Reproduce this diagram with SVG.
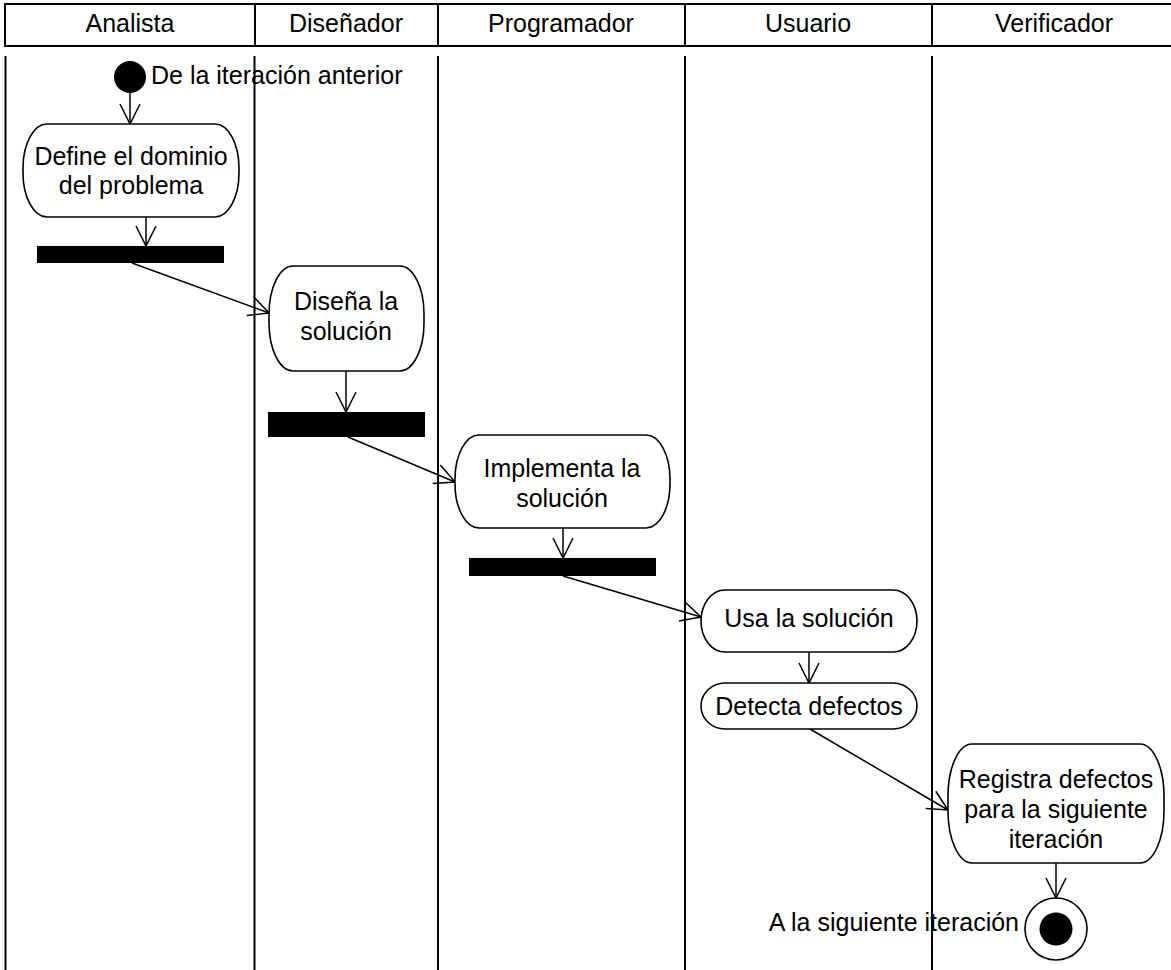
<svg xmlns="http://www.w3.org/2000/svg" width="1171" height="970" viewBox="0 0 1171 970">
  <style>
    text { font-family: "Liberation Sans", Arial, sans-serif; font-size: 25px; fill: #000; }
    .c { text-anchor: middle; }
    .lane { stroke: #000; stroke-width: 2; fill: none; }
    .act { fill: #fff; stroke: #000; stroke-width: 1.6; }
    .bar { fill: #000; }
    .flow { stroke: #000; stroke-width: 1.5; fill: none; marker-end: url(#open); }
  </style>
  <defs>
    <marker id="open" markerUnits="userSpaceOnUse" markerWidth="22" markerHeight="22" viewBox="0 0 22 22" refX="20" refY="11" orient="auto" overflow="visible">
      <path d="M0,1 L20,11 L0,21" fill="none" stroke="#000" stroke-width="1.5"/>
    </marker>
  </defs>
  <rect width="1171" height="970" fill="#fff"/>

  <!-- swimlane header -->
  <g id="header">
    <rect x="5" y="4" width="1170" height="42" class="lane"/>
    <line x1="255" y1="4" x2="255" y2="46" class="lane"/>
    <line x1="438" y1="4" x2="438" y2="46" class="lane"/>
    <line x1="685" y1="4" x2="685" y2="46" class="lane"/>
    <line x1="932" y1="4" x2="932" y2="46" class="lane"/>
    <text x="130" y="32" class="c">Analista</text>
    <text x="346" y="32" class="c">Diseñador</text>
    <text x="561" y="32" class="c">Programador</text>
    <text x="808" y="32" class="c">Usuario</text>
    <text x="1054" y="32" class="c">Verificador</text>
  </g>

  <!-- swimlane separators -->
  <g id="lanes">
    <line x1="5.5" y1="56" x2="5.5" y2="970" class="lane"/>
    <line x1="254.5" y1="56" x2="254.5" y2="970" class="lane"/>
    <line x1="438" y1="56" x2="438" y2="970" class="lane"/>
    <line x1="685" y1="56" x2="685" y2="970" class="lane"/>
    <line x1="932" y1="56" x2="932" y2="970" class="lane"/>
  </g>

  <!-- control flows -->
  <g id="connectors">
    <line x1="130" y1="93" x2="130" y2="124" class="flow"/>
    <line x1="146" y1="217" x2="146" y2="246" class="flow"/>
    <line x1="132" y1="263" x2="269" y2="313" class="flow"/>
    <line x1="346" y1="371" x2="346" y2="412" class="flow"/>
    <line x1="348" y1="437" x2="455" y2="482" class="flow"/>
    <line x1="563" y1="528" x2="563" y2="558" class="flow"/>
    <line x1="563" y1="576" x2="701" y2="617" class="flow"/>
    <line x1="809" y1="652" x2="809" y2="683" class="flow"/>
    <line x1="810" y1="729" x2="948" y2="810" class="flow"/>
    <line x1="1056" y1="863" x2="1056" y2="898" class="flow"/>
  </g>

  <g id="inicio">
    <circle cx="130" cy="77" r="16" fill="#000"/>
    <text x="151" y="84">De la iteración anterior</text>
  </g>

  <g id="define-dominio">
    <rect x="23" y="124" width="216" height="93" rx="24" ry="44" class="act"/>
    <text x="131" y="165" class="c">Define el dominio</text>
    <text x="131" y="194" class="c">del problema</text>
  </g>

  <g id="fork-analista">
    <rect x="37" y="246" width="187" height="17" class="bar"/>
  </g>

  <g id="disena-solucion">
    <rect x="269" y="266" width="155" height="105" rx="24" ry="48" class="act"/>
    <text x="346" y="310" class="c">Diseña la</text>
    <text x="346" y="340" class="c">solución</text>
  </g>

  <g id="fork-disenador">
    <rect x="268" y="412" width="157" height="25" class="bar"/>
  </g>

  <g id="implementa-solucion">
    <rect x="455" y="435" width="215" height="93" rx="24" ry="44" class="act"/>
    <text x="562" y="477" class="c">Implementa la</text>
    <text x="562" y="507" class="c">solución</text>
  </g>

  <g id="fork-programador">
    <rect x="469" y="558" width="187" height="18" class="bar"/>
  </g>

  <g id="usa-solucion">
    <rect x="701" y="590" width="216" height="62" rx="24" ry="31" class="act"/>
    <text x="809" y="627" class="c">Usa la solución</text>
  </g>

  <g id="detecta-defectos">
    <rect x="701" y="683" width="216" height="46" rx="24" ry="23" class="act"/>
    <text x="809" y="715" class="c">Detecta defectos</text>
  </g>

  <g id="registra-defectos">
    <rect x="948" y="744" width="216" height="119" rx="24" ry="52" class="act"/>
    <text x="1056" y="788" class="c">Registra defectos</text>
    <text x="1056" y="818" class="c">para la siguiente</text>
    <text x="1056" y="848" class="c">iteración</text>
  </g>

  <g id="fin">
    <circle cx="1056" cy="929" r="31" fill="#fff" stroke="#000" stroke-width="1.6"/>
    <circle cx="1056" cy="929" r="16.5" fill="#000"/>
    <text x="1019" y="931" text-anchor="end">A la siguiente iteración</text>
  </g>
</svg>
